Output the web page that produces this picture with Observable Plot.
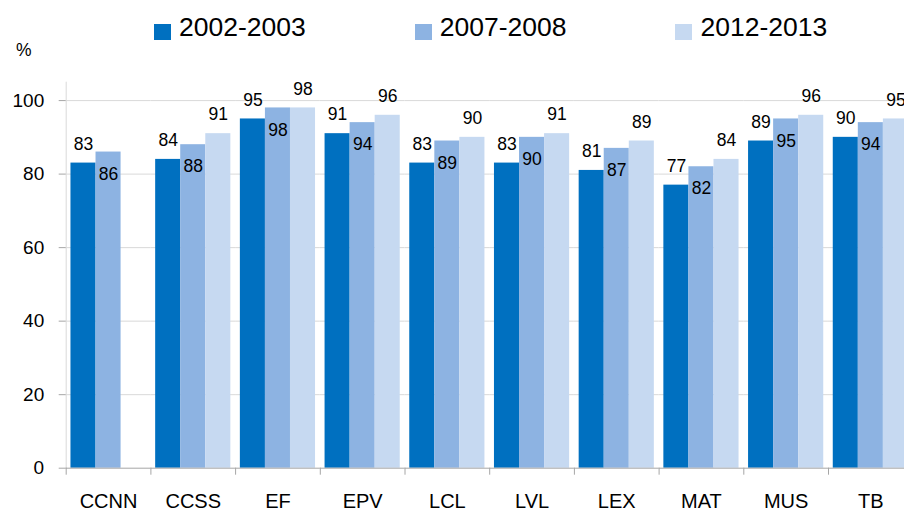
<!DOCTYPE html>
<html>
<head>
<meta charset="utf-8">
<script src="https://cdn.jsdelivr.net/npm/d3@7"></script>
<script src="https://cdn.jsdelivr.net/npm/@observablehq/plot@0.6"></script>
<style>
  html, body { margin: 0; padding: 0; background: #fff; overflow: hidden; width: 904px; height: 512px; }
  #wrap { position: relative; width: 904px; height: 512px; font-family: "Liberation Sans", Arial, sans-serif; }
  #legend { position: absolute; left: 154px; top: 14px; display: flex; gap: 109px; font-size: 26.5px; line-height: 1; color: #000; }
  .item { display: flex; align-items: flex-end; }
  .sw { width: 17px; height: 16px; margin-right: 8px; margin-bottom: 1px; }
  #pct { position: absolute; left: 16px; top: 42px; font-size: 17.5px; line-height: 1; color: #000; }
</style>
</head>
<body>
<div id="wrap">
  <div id="chart"></div>
  <div id="legend"></div>
  <div id="pct">%</div>
</div>
<script>
const categories = ["CCNN", "CCSS", "EF", "EPV", "LCL", "LVL", "LEX", "MAT", "MUS", "TB"];
const series = ["2002-2003", "2007-2008", "2012-2013"];
const values2002 = [83, 84, 95, 91, 83, 83, 81, 77, 89, 90];
const values2007 = [86, 88, 98, 94, 89, 90, 87, 82, 95, 94];
const values2012 = [null, 91, 98, 96, 90, 91, 89, 84, 96, 95];
const colors = ["#0070C0", "#8DB3E2", "#C6D9F1"];
const yTicks = [0, 20, 40, 60, 80, 100];

const seriesValues = [values2002, values2007, values2012];
const rows = [];
categories.forEach((c, i) => {
  series.forEach((s, j) => {
    const v = seriesValues[j][i];
    if (v != null) rows.push({category: c, series: s, value: v, inside: j === 1});
  });
});

const width = 904, height = 512;
const marginLeft = 65.7, marginRight = -8.7, marginTop = 81.7, marginBottom = 44.3;
const bandwidth = (width - marginLeft - marginRight) / categories.length;

const chart = Plot.plot({
  width, height, marginLeft, marginRight, marginTop, marginBottom,
  style: {fontFamily: "Liberation Sans, Arial, sans-serif", fontSize: "18px", color: "#000", background: "transparent"},
  fx: {domain: categories, padding: 0, round: false, label: null},
  x: {domain: series, paddingInner: 0, paddingOuter: 0.19, round: false, axis: null},
  y: {domain: [0, 105], label: null},
  color: {domain: series, range: colors},
  marks: [
    Plot.gridY(yTicks.slice(1), {stroke: "#d9d9d9", strokeOpacity: 1}),
    Plot.frame({anchor: "left", facetAnchor: "left", stroke: "#d9d9d9", strokeOpacity: 1}),
    Plot.barY(rows, {fx: "category", x: "series", y: "value", fill: "series"}),
    Plot.ruleY([0], {stroke: "#a6a6a6"}),
    Plot.axisY({ticks: yTicks, tickSize: 7, tickPadding: 15, stroke: "#a6a6a6", fontSize: 19, label: null}),
    Plot.axisFx({anchor: "bottom", tickSize: 7, tickFormat: () => "", dx: -bandwidth / 2, stroke: "#a6a6a6", label: null}),
    Plot.axisFx({anchor: "bottom", tickSize: 0, tickPadding: 26, fontSize: 20, label: null}),
    Plot.text(rows.filter(d => !d.inside), {fx: "category", x: "series", y: "value", text: d => String(d.value), dy: -19, fontSize: 17.5, fill: "#000"}),
    Plot.text(rows.filter(d => d.inside), {fx: "category", x: "series", y: "value", text: d => String(d.value), dy: 22, fontSize: 17.5, fill: "#000"})
  ]
});
document.getElementById("chart").appendChild(chart);

const legend = document.getElementById("legend");
series.forEach((s, j) => {
  const item = document.createElement("div");
  item.className = "item";
  const sw = document.createElement("span");
  sw.className = "sw";
  sw.style.background = colors[j];
  const t = document.createElement("span");
  t.textContent = s;
  item.appendChild(sw);
  item.appendChild(t);
  legend.appendChild(item);
});
</script>
</body>
</html>
